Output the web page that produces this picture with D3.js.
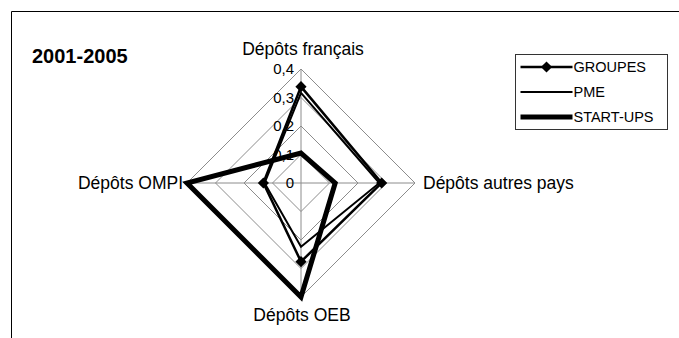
<!DOCTYPE html>
<html>
<head>
<meta charset="utf-8">
<script src="https://cdn.jsdelivr.net/npm/d3@7"></script>
<style>
  body { margin: 0; background: #fff; }
  svg { display: block; font-family: "Liberation Sans", Arial, sans-serif; }
</style>
</head>
<body>
<svg id="chart" width="679" height="338"></svg>
<script>
// axes du radar (sens horaire depuis le haut)
const axes = ['Dépôts français', 'Dépôts autres pays', 'Dépôts OEB', 'Dépôts OMPI'];
const seriesNames = ['GROUPES', 'PME', 'START-UPS'];
const groupes = [0.338, 0.283, 0.276, 0.132];
const pme = [0.316, 0.275, 0.224, 0.128];
const startups = [0.105, 0.12, 0.4, 0.4];
const ticks = [0, 0.1, 0.2, 0.3, 0.4];
const tickLabels = ['0', '0,1', '0,2', '0,3', '0,4'];

const svg = d3.select('#chart');
const cx = 301, cy = 183;
const r = d3.scaleLinear().domain([0, 0.4]).range([0, 114]);
const angle = i => i * Math.PI / 2;  // 0 = haut

// cadre (coupé à droite et en bas)
svg.append('path')
  .attr('d', 'M11.5,340 V11.5 H680')
  .attr('fill', 'none').attr('stroke', '#000').attr('stroke-width', 1);

svg.append('text')
  .attr('x', 32).attr('y', 63)
  .attr('font-size', 20).attr('font-weight', 700)
  .text('2001-2005');

const g = svg.append('g').attr('transform', `translate(${cx},${cy})`);

// grille
const ring = d3.lineRadial().angle((d, i) => angle(i)).radius(d => r(d)).curve(d3.curveLinearClosed);
ticks.slice(1).forEach(t => {
  g.append('path').attr('d', ring(axes.map(() => t)))
    .attr('fill', 'none').attr('stroke', '#8c8c8c').attr('stroke-width', 1);
});
axes.forEach((a, i) => {
  const x = r(0.4) * Math.sin(angle(i)), y = -r(0.4) * Math.cos(angle(i));
  g.append('line').attr('x1', 0).attr('y1', 0).attr('x2', x).attr('y2', y)
    .attr('stroke', '#8c8c8c').attr('stroke-width', 1);
});

// libellés de graduation
g.selectAll('.tick').data(ticks).join('text')
  .attr('class', 'tick')
  .attr('x', -7).attr('y', d => -r(d))
  .attr('dy', '0.36em')
  .attr('text-anchor', 'end')
  .attr('font-size', 15)
  .text((d, i) => tickLabels[i]);

// libellés d'axes
const labelPos = [
  { x: 2, y: -r(0.4) - 14, anchor: 'middle', dy: 0 },
  { x: r(0.4) + 8, y: 0, anchor: 'start', dy: '0.36em' },
  { x: 1, y: r(0.4) + 24, anchor: 'middle', dy: 0 },
  { x: -r(0.4) - 4, y: 0, anchor: 'end', dy: '0.36em' }
];
axes.forEach((a, i) => {
  g.append('text')
    .attr('x', labelPos[i].x).attr('y', labelPos[i].y).attr('dy', labelPos[i].dy)
    .attr('text-anchor', labelPos[i].anchor)
    .attr('font-size', 17.5)
    .text(a);
});

// séries
const widths = [2.5, 2, 5];
const data = [groupes, pme, startups];
data.forEach((vals, s) => {
  g.append('path').attr('d', ring(vals))
    .attr('fill', 'none').attr('stroke', '#000')
    .attr('stroke-width', widths[s]).attr('stroke-linejoin', 'miter');
});
const diamond = d3.symbol().type(d3.symbolDiamond2).size(80);
g.selectAll('.mk').data(groupes).join('path')
  .attr('class', 'mk')
  .attr('d', diamond)
  .attr('transform', (d, i) => `translate(${r(d) * Math.sin(angle(i))},${-r(d) * Math.cos(angle(i))})`)
  .attr('fill', '#000');

// légende
const lg = svg.append('g').attr('transform', 'translate(515.5,54.5)');
lg.append('rect').attr('width', 152).attr('height', 75)
  .attr('fill', '#fff').attr('stroke', '#333').attr('stroke-width', 1);
seriesNames.forEach((n, i) => {
  const y = 12.5 + i * 25;
  lg.append('line').attr('x1', 5).attr('x2', 57).attr('y1', y).attr('y2', y)
    .attr('stroke', '#000').attr('stroke-width', widths[i]);
  if (i === 0) {
    lg.append('path').attr('d', diamond).attr('transform', `translate(31,${y})`).attr('fill', '#000');
  }
  lg.append('text').attr('x', 58).attr('y', y).attr('dy', '0.36em')
    .attr('font-size', 14.5).text(n);
});
</script>
</body>
</html>
